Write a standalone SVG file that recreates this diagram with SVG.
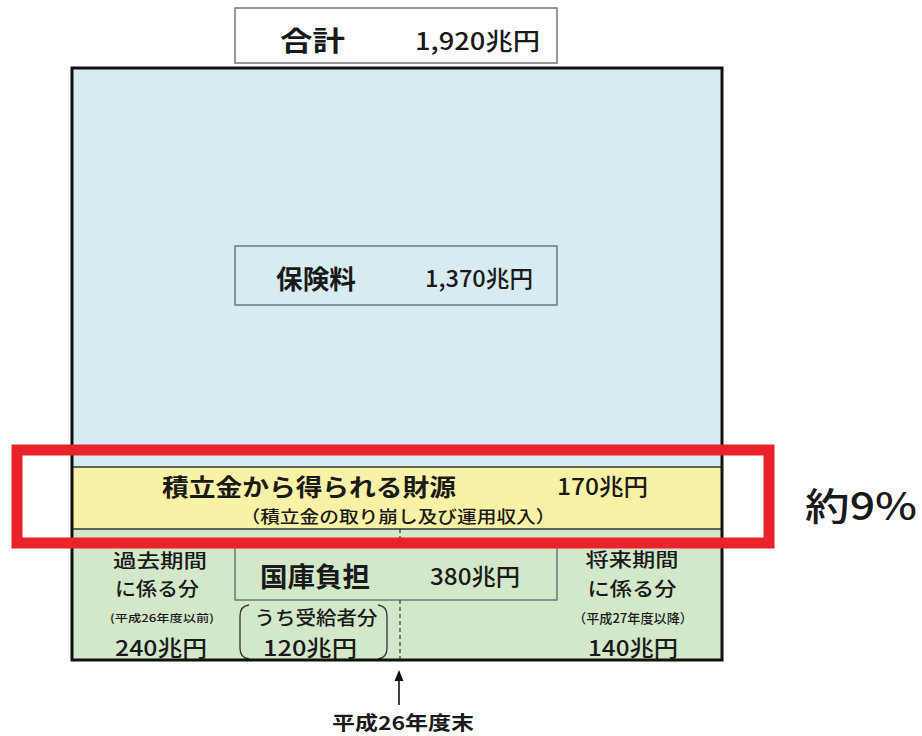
<svg xmlns="http://www.w3.org/2000/svg" width="922" height="736" viewBox="0 0 922 736">
<style>
text{font-family:"Noto Sans CJK JP","Noto Sans",sans-serif;fill:#1a1a1a;dominant-baseline:central}
.b{font-weight:700}
.m{font-weight:500}
.lbl{fill:none;stroke:#6a7a7a;stroke-width:1.5}
.dash{stroke:#333;stroke-width:1.2;stroke-dasharray:4,3;fill:none}
</style>
<rect width="922" height="736" fill="#fff"/>
<g id="total">
<rect x="235" y="8" width="322" height="55" fill="#fff" stroke="#777" stroke-width="1.5"/>
<text x="312.5" y="39" font-size="27" class="b" text-anchor="middle" textLength="65" lengthAdjust="spacingAndGlyphs">合計</text>
<text x="477.5" y="39" font-size="24" class="m" text-anchor="middle" textLength="125" lengthAdjust="spacingAndGlyphs">1,920兆円</text>
</g>
<g id="hokenryo">
<rect x="72" y="68" width="650" height="399" fill="#d6ecf0"/>
<rect x="235" y="246" width="322" height="59" class="lbl"/>
<text x="316" y="277" font-size="26" class="b" text-anchor="middle" textLength="80" lengthAdjust="spacingAndGlyphs">保険料</text>
<text x="479" y="277" font-size="23" class="m" text-anchor="middle" textLength="108" lengthAdjust="spacingAndGlyphs">1,370兆円</text>
</g>
<g id="tsumitatekin">
<rect x="72" y="467" width="650" height="62" fill="#f8f1a6"/>
<text x="309" y="485" font-size="24" class="b" text-anchor="middle" textLength="294" lengthAdjust="spacingAndGlyphs">積立金から得られる財源</text>
<text x="602.5" y="485" font-size="23" class="m" text-anchor="middle" textLength="91" lengthAdjust="spacingAndGlyphs">170兆円</text>
<text x="398" y="515" font-size="17" class="m" text-anchor="middle" textLength="315" lengthAdjust="spacingAndGlyphs">（積立金の取り崩し及び運用収入）</text>
</g>
<g id="green">
<rect x="72" y="529" width="650" height="131" fill="#d3e8c9"/>
</g>
<g id="kako">
<text x="160" y="559" font-size="19" class="m" text-anchor="middle" textLength="94" lengthAdjust="spacingAndGlyphs">過去期間</text>
<text x="157" y="587" font-size="19" class="m" text-anchor="middle" textLength="84" lengthAdjust="spacingAndGlyphs">に係る分</text>
<text x="162" y="617" font-size="10.5" class="m" text-anchor="middle" textLength="104" lengthAdjust="spacingAndGlyphs">(平成26年度以前)</text>
<text x="161" y="646" font-size="22" class="m" text-anchor="middle" textLength="92" lengthAdjust="spacingAndGlyphs">240兆円</text>
</g>
<g id="kokko">
<rect x="235" y="543" width="322" height="57" class="lbl"/>
<text x="315" y="575" font-size="27" class="b" text-anchor="middle" textLength="110" lengthAdjust="spacingAndGlyphs">国庫負担</text>
<text x="475" y="575" font-size="23" class="m" text-anchor="middle" textLength="90" lengthAdjust="spacingAndGlyphs">380兆円</text>
</g>
<g id="jukyu">
<path d="M249,605 Q240,606 240,616 L240,648 Q240,658 249,659" fill="none" stroke="#333" stroke-width="1.3"/>
<path d="M378,605 Q387,606 387,616 L387,648 Q387,658 378,659" fill="none" stroke="#333" stroke-width="1.3"/>
<text x="316" y="616" font-size="19" class="m" text-anchor="middle" textLength="123" lengthAdjust="spacingAndGlyphs">うち受給者分</text>
<text x="310" y="646" font-size="22" class="m" text-anchor="middle" textLength="94" lengthAdjust="spacingAndGlyphs">120兆円</text>
</g>
<g id="shorai">
<text x="632" y="558" font-size="19" class="m" text-anchor="middle" textLength="93" lengthAdjust="spacingAndGlyphs">将来期間</text>
<text x="632" y="587" font-size="19" class="m" text-anchor="middle" textLength="89" lengthAdjust="spacingAndGlyphs">に係る分</text>
<text x="633" y="617" font-size="13" class="m" text-anchor="middle" textLength="120" lengthAdjust="spacingAndGlyphs">（平成27年度以降）</text>
<text x="633" y="646" font-size="22" class="m" text-anchor="middle" textLength="90" lengthAdjust="spacingAndGlyphs">140兆円</text>
</g>
<g id="frame">
<line x1="72" y1="467" x2="722" y2="467" stroke="#333" stroke-width="1.5"/>
<line x1="72" y1="529" x2="722" y2="529" stroke="#333" stroke-width="1.5"/>
<rect x="72" y="68" width="650" height="592" fill="none" stroke="#111" stroke-width="3"/>
</g>
<g id="connectors">
<line x1="400" y1="529" x2="400" y2="543" class="dash"/>
<line x1="400" y1="600" x2="400" y2="660" class="dash"/>
<line x1="399" y1="705" x2="399" y2="680" stroke="#111" stroke-width="1.6"/>
<polygon points="399,670 394.5,681 403.5,681" fill="#111"/>
</g>
<g id="nendomatsu">
<text x="403" y="721" font-size="19" class="b" text-anchor="middle" textLength="142" lengthAdjust="spacingAndGlyphs">平成26年度末</text>
</g>
<g id="highlight">
<rect x="17" y="450" width="752" height="93" fill="none" stroke="#e8232a" stroke-width="11"/>
<text x="861" y="503" font-size="38" class="m" text-anchor="middle" textLength="112" lengthAdjust="spacingAndGlyphs">約9%</text>
</g>
</svg>
